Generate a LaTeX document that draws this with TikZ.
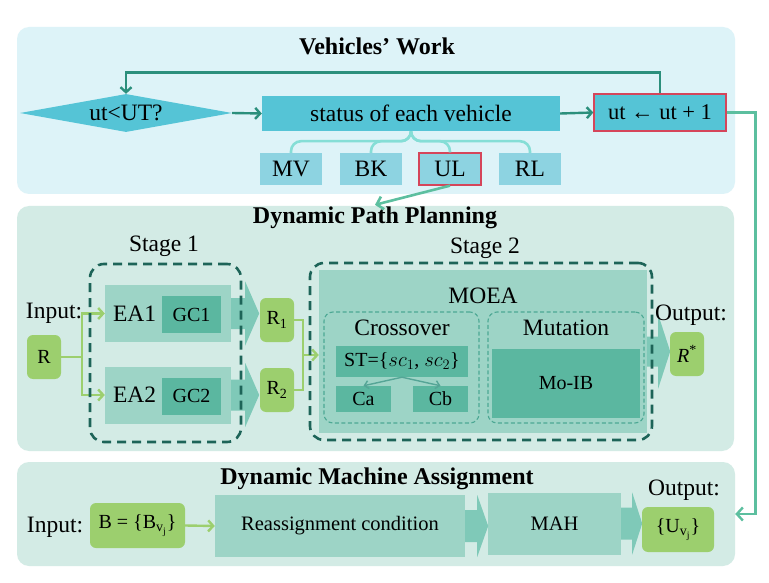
\documentclass[tikz,border=0pt]{standalone}
\usepackage{fontspec}
\setmainfont{Liberation Serif}
\usetikzlibrary{shapes.geometric,arrows.meta,calc}
\definecolor{panelA}{HTML}{DDF3F8}
\definecolor{panelB}{HTML}{D3EBE5}
\definecolor{cyanbox}{HTML}{55C4D6}
\definecolor{cyanlight}{HTML}{8DD3E1}
\definecolor{bracecol}{HTML}{85DED6}
\definecolor{tealA}{HTML}{2B8F7C}
\definecolor{mintline}{HTML}{5CBF9F}
\definecolor{redb}{HTML}{D5455A}
\definecolor{midbox}{HTML}{9DD4C6}
\definecolor{darkbox}{HTML}{5BB7A0}
\definecolor{blockarr}{HTML}{7FC9B8}
\definecolor{greenbox}{HTML}{9CCF6E}
\definecolor{stagedash}{HTML}{1D6458}
\definecolor{thindash}{HTML}{4DA894}
\newcommand\ftitle{\fontsize{24}{28}\selectfont\bfseries}
\newcommand\fmain{\fontsize{23.5}{28}\selectfont}
\newcommand\fsmall{\fontsize{20}{24}\selectfont}
\tikzset{
  panelAsty/.style={fill=panelA, rounded corners=12pt, inner sep=0pt},
  panelBsty/.style={fill=panelB, rounded corners=12pt, inner sep=0pt},
  titlesty/.style={font=\ftitle, inner sep=2pt},
  mainsty/.style={font=\fmain, inner sep=1pt},
  cyansty/.style={fill=cyanbox, inner sep=0pt, font=\fmain},
  lightsty/.style={fill=cyanlight, inner sep=0pt, minimum width=62pt, minimum height=32pt, font=\fmain},
  midsty/.style={fill=midbox, inner sep=0pt},
  darksty/.style={fill=darkbox, inner sep=0pt, font=\fsmall},
  greensty/.style={fill=greenbox, rounded corners=6pt, inner sep=0pt, font=\fsmall},
  stagesty/.style={draw=stagedash, line width=2.6pt, dash pattern=on 9pt off 6pt, rounded corners=14pt, inner sep=0pt},
  subdash/.style={draw=thindash, line width=1.1pt, dash pattern=on 4pt off 2.5pt, rounded corners=9pt, inner sep=0pt},
  tealarrow/.style={draw=tealA, line width=2.4pt, -{Straight Barb[length=5pt,width=11pt]}},
  mintarrow/.style={draw=mintline, line width=2.4pt, -{Straight Barb[length=6pt,width=13pt]}},
  ularrow/.style={draw=mintline, line width=2.6pt, -{Straight Barb[length=6pt,width=13pt]}},
  greenline/.style={draw=greenbox, line width=2.4pt},
  greenarrow/.style={greenline, -{Straight Barb[length=5pt,width=11pt]}},
  stararrow/.style={draw=tealA!80!white, line width=1.4pt, -{Straight Barb[length=4pt,width=8pt]}},
  bracesty/.style={draw=bracecol, line width=2.6pt, rounded corners=10pt},
  pics/barrow/.style n args={4}{code={
    \fill[blockarr] (0,-#3) -- (#2,-#3) -- (#2,-#4) -- (#1,0) -- (#2,#4) -- (#2,#3) -- (0,#3) -- cycle;}}
}
\begin{document}
\begin{tikzpicture}[x=1pt,y=-1pt]
\useasboundingbox (0,0) rectangle (769,583);
\fill[white] (0,0) rectangle (769,583);
% panels
\node[panelAsty, minimum width=718pt, minimum height=167pt] (vw) at (376,110.5) {};
\node[panelBsty, minimum width=717pt, minimum height=245pt] (dpp) at (375.5,328.5) {};
\node[panelBsty, minimum width=718pt, minimum height=104pt] (dma) at (376,514) {};
% ---------- Vehicles' Work ----------
\node[titlesty] (vwt) at (377,46) {Vehicles’ Work};
\node[cyansty, diamond, aspect=5.6, minimum width=212pt, minimum height=38pt] (dia) at (126,113) {ut<UT?};
\node[cyansty, minimum width=298pt, minimum height=35pt] (status) at (411,113.5) {status of each vehicle};
\node[cyansty, draw=redb, line width=1.3pt, minimum width=132pt, minimum height=37pt, font=\fontsize{22.5}{26}\selectfont] (ut) at (660,112.5) {ut ← ut + 1};
\node[lightsty] (mv) at (291,169) {MV};
\node[lightsty] (bk) at (371,169) {BK};
\node[lightsty, draw=redb, line width=1.3pt] (ul) at (450,169) {UL};
\node[lightsty] (rl) at (530,169) {RL};
\foreach \t in {mv,bk,ul,rl}{
  \draw[bracesty] (status.south) -- ++(0,10) -| (\t.north);
}
\draw[tealarrow] (dia.east) -- (status.west);
\draw[tealarrow] (status.east) -- (ut.west);
\draw[tealarrow] (ut.north) -- ++(0,-21) -| (dia.north);
% ---------- Dynamic Path Planning ----------
\node[titlesty] (dpt) at (375,218) {Dynamic Path Planning};
\draw[ularrow] (ul.south) -- (dpt.north);
\node[mainsty] (s1) at (164,246) {Stage 1};
\node[mainsty] (s2) at (485,248) {Stage 2};
\node[mainsty] (inp) at (54,313) {Input:};
\node[greensty, minimum width=34pt, minimum height=44pt] (R) at (44,357) {R};
\node[midsty, minimum width=126pt, minimum height=57pt, text width=110pt, inner xsep=8pt, align=left, font=\fmain] (ea1) at (168,313.5) {EA1};
\node[midsty, minimum width=126pt, minimum height=57pt, text width=110pt, inner xsep=8pt, align=left, font=\fmain] (ea2) at (168,395) {EA2};
\node[darksty, minimum width=59pt, minimum height=37pt] (gc1) at (191.5,314.5) {GC1};
\node[darksty, minimum width=59pt, minimum height=37pt] (gc2) at (191.5,396) {GC2};
\pic at (ea1.east) {barrow={28}{14}{15.5}{32}};
\pic at (ea2.east) {barrow={28}{14}{15.5}{32}};
\node[greensty, minimum width=34pt, minimum height=44pt] (r1) at (277,320) {R\textsubscript{1}};
\node[greensty, minimum width=34pt, minimum height=44pt] (r2) at (277,390) {R\textsubscript{2}};
\draw[greenarrow] (R.east) -- ++(21,0) |- (ea1.west);
\draw[greenarrow] (R.east) -- ++(21,0) |- (ea2.west);
\node[midsty, minimum width=328pt, minimum height=163pt] (moea) at (483,351.5) {};
\coordinate (jn) at ($(r1.east)!0.5!(r2.east)+(9,0)$);
\draw[greenline] (r1.east) -| (jn);
\draw[greenline] (r2.east) -| (jn);
\draw[greenarrow] (jn) -- (jn -| moea.west);
\node[mainsty] (moeat) at (483,296) {MOEA};
\node[subdash, minimum width=155pt, minimum height=111pt] (cross) at (401.5,367.5) {};
\node[mainsty] (crosst) at (402,328) {Crossover};
\node[darksty, minimum width=132pt, minimum height=31pt] (st) at (402,361.5) {ST=\{$sc_1$, $sc_2$\}};
\node[darksty, minimum width=55pt, minimum height=26pt] (ca) at (363.5,399) {Ca};
\node[darksty, minimum width=55pt, minimum height=26pt] (cb) at (440.5,399) {Cb};
\draw[stararrow] (st.south) -- (ca.north);
\draw[stararrow] (st.south) -- (cb.north);
\node[subdash, minimum width=156pt, minimum height=111pt] (mut) at (566,367.5) {};
\node[mainsty] (mutt) at (566,328) {Mutation};
\node[darksty, minimum width=148pt, minimum height=69pt] (moib) at (566,383.5) {Mo-IB};
\pic at (moea.east) {barrow={23}{11}{15}{37}};
\node[stagesty, minimum width=151pt, minimum height=178pt] (stg1) at (165.5,353) {};
\node[stagesty, minimum width=342pt, minimum height=177pt] (stg2) at (481,351.5) {};
\node[mainsty] (outp) at (691,315) {Output:};
\node[greensty, minimum width=34pt, minimum height=44pt] (rstar) at (687,354) {\textit{R}\textsuperscript{*}};
% ---------- Dynamic Machine Assignment ----------
\node[titlesty] (dmt) at (377,479) {Dynamic Machine Assignment};
\node[mainsty] (inp2) at (55,527) {Input:};
\node[greensty, minimum width=95pt, minimum height=45pt] (B) at (137.5,525.5) {B = \{B\textsubscript{v\textsubscript{j}}\}};
\node[midsty, minimum width=250pt, minimum height=62pt, font=\fontsize{20.5}{24}\selectfont] (re) at (340,526) {Reassignment condition};
\node[midsty, minimum width=133pt, minimum height=62pt, font=\fontsize{20.5}{24}\selectfont] (mah) at (554.5,523.5) {MAH};
\pic at (re.east) {barrow={23}{12}{16}{31}};
\pic at (mah.east) {barrow={21}{11}{16}{31}};
\node[greensty, minimum width=72pt, minimum height=45pt] (U) at (678,529.5) {\{U\textsubscript{v\textsubscript{j}}\}};
\node[mainsty] (outp2) at (684,490) {Output:};
\draw[greenarrow] (B.east) -- (re.west);
\draw[mintarrow] (ut.east) -- ++(29,0) |- (dma.east);
\end{tikzpicture}
\end{document}
